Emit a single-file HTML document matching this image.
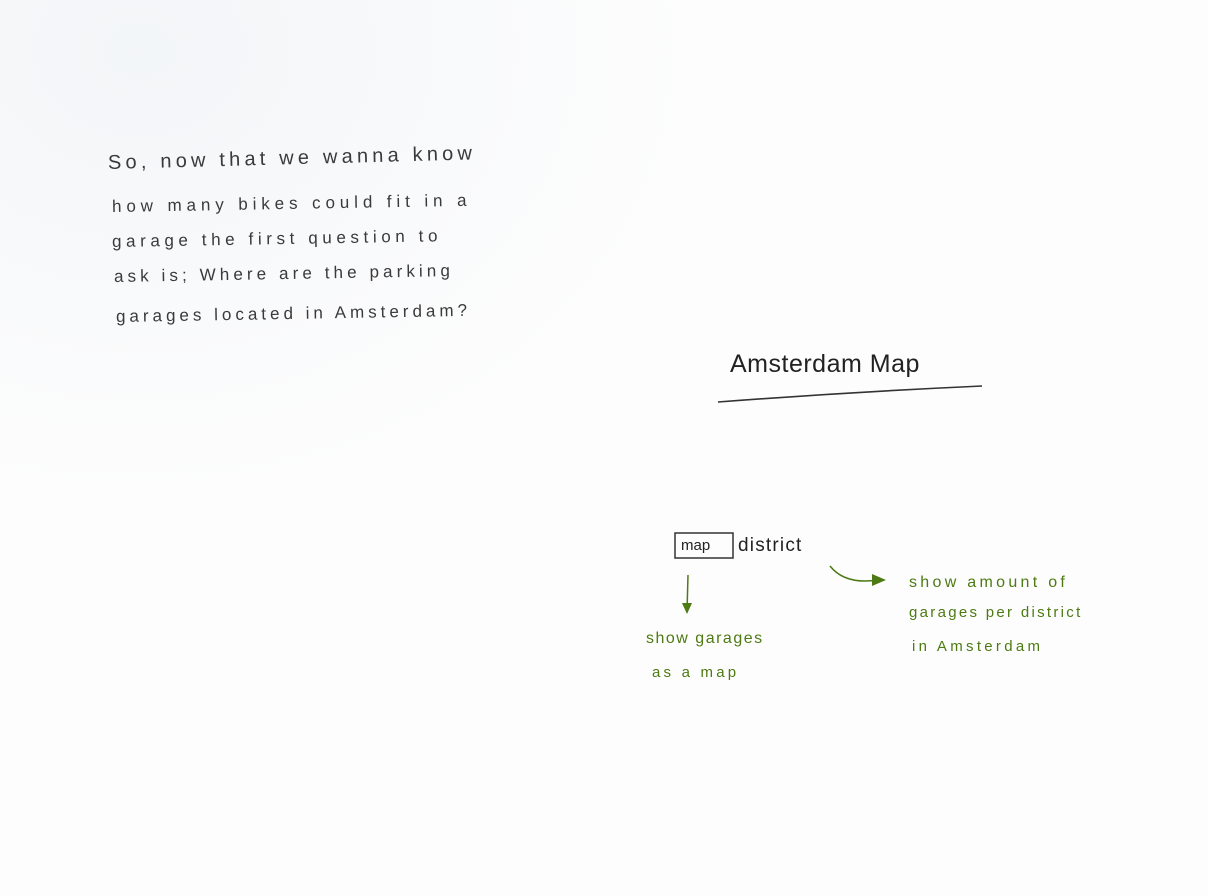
<!DOCTYPE html>
<html><head><meta charset="utf-8"><style>
html,body{margin:0;padding:0;}
body{width:1208px;height:896px;position:relative;overflow:hidden;background:#fdfdfd;font-family:"Liberation Sans",sans-serif;}
.bg{position:absolute;left:0;top:0;width:700px;height:500px;background:radial-gradient(ellipse at 20% 10%,rgba(230,236,242,0.45),rgba(255,255,255,0) 70%);}
.t{position:absolute;color:#3a3a3a;white-space:nowrap;font-weight:300;letter-spacing:2px;}
.g{position:absolute;color:#4d7a12;white-space:nowrap;font-size:15px;letter-spacing:1.5px;}
</style></head><body>
<div class="bg"></div>
<div class="t" style="left:108px;top:152px;font-size:20px;letter-spacing:4.2px;transform:rotate(-1.5deg);transform-origin:left">So, now that we wanna know</div>
<div class="t" style="left:112px;top:197px;font-size:17px;letter-spacing:4.9px;transform:rotate(-1deg);transform-origin:left">how many bikes could fit in a</div>
<div class="t" style="left:112px;top:232px;font-size:17px;letter-spacing:4.6px;transform:rotate(-1deg);transform-origin:left">garage the first question to</div>
<div class="t" style="left:114px;top:267px;font-size:17px;letter-spacing:4.1px;transform:rotate(-1deg);transform-origin:left">ask is; Where are the parking</div>
<div class="t" style="left:116px;top:307px;font-size:17px;letter-spacing:4px;transform:rotate(-1deg);transform-origin:left">garages located in Amsterdam?</div>

<div class="t" style="left:730px;top:350px;font-size:25px;color:#222;letter-spacing:0.5px">Amsterdam Map</div>
<svg width="1208" height="896" style="position:absolute;left:0;top:0">
<path d="M718 402 Q850 392 982 386" stroke="#333" stroke-width="1.6" fill="none"/>
<rect x="675" y="533" width="58" height="25" fill="none" stroke="#333" stroke-width="1.5"/>
<path d="M688 575 L687 612" stroke="#4d7a12" stroke-width="1.5" fill="none"/>
<path d="M682 603 L687 614 L692 603 Z" fill="#4d7a12"/>
<path d="M830 566 Q845 585 878 580" stroke="#4d7a12" stroke-width="1.5" fill="none"/>
<path d="M872 574 L886 580 L872 586 Z" fill="#4d7a12"/>
</svg>
<div class="t" style="left:681px;top:537px;font-size:15px;color:#222;letter-spacing:0">map</div>
<div class="t" style="left:738px;top:535px;font-size:19px;color:#222;letter-spacing:1.2px">district</div>
<div class="g" style="left:646px;top:630px;font-size:16px">show garages</div>
<div class="g" style="left:652px;top:664px;letter-spacing:3.2px">as a map</div>
<div class="g" style="left:909px;top:574px;font-size:16px;letter-spacing:3.3px">show amount of</div>
<div class="g" style="left:909px;top:604px;letter-spacing:2.3px">garages per district</div>
<div class="g" style="left:912px;top:638px;letter-spacing:3.3px">in Amsterdam</div>
</body></html>
